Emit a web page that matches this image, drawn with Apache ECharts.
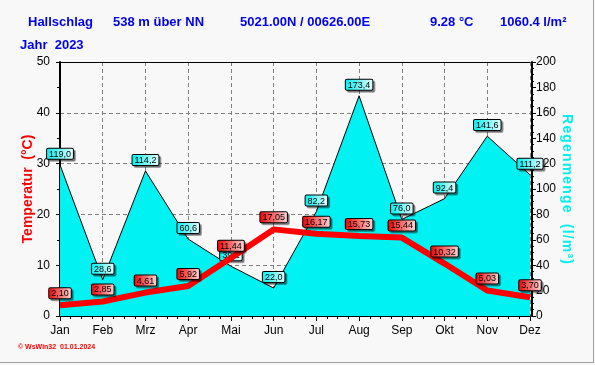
<!DOCTYPE html>
<html>
<head>
<meta charset="utf-8">
<script src="https://cdn.jsdelivr.net/npm/echarts@6/dist/echarts.min.js"></script>
<style>
html,body{margin:0;padding:0;background:#F8F8F8;}
#c{width:595px;height:365px;}
</style>
</head>
<body>
<div id="c"></div>
<script>
var months = ['Jan','Feb','Mrz','Apr','Mai','Jun','Jul','Aug','Sep','Okt','Nov','Dez'];
var temperature = [2.10, 2.85, 4.61, 5.92, 11.44, 17.05, 16.17, 15.73, 15.44, 10.32, 5.03, 3.70];
var rain = [119.0, 28.6, 114.2, 60.6, 39.2, 22.0, 82.2, 173.4, 76.0, 92.4, 141.6, 111.2];
var tempTicks = {min: 0, max: 50, interval: 10};
var rainTicks = {min: 0, max: 200, interval: 20};
var header = ['Hallschlag', '538 m über NN', '5021.00N / 00626.00E', '9.28 °C', '1060.4 l/m²'];
var yearLabel = 'Jahr  2023';
var footer = '© WsWin32  01.01.2024';
var leftTitle = 'Temperatur  (°C)';
var rightTitle = 'Regenmenge  (l/m³)';

var chart = echarts.init(document.getElementById('c'), null, {renderer: 'canvas'});
var FONT = 'Liberation Sans, Arial, sans-serif';
function grad(c1, c2) {
  return new echarts.graphic.LinearGradient(0, 0, 1, 0, [{offset: 0, color: c1}, {offset: 1, color: c2}]);
}
function comma(v, d) { return v.toFixed(d).replace('.', ','); }
function spaced(s) { return s.split('').join('\u200A'); }

var headerX = [28, 113, 240, 430, 500];
var graphics = header.map(function (t, i) {
  return {type: 'text', left: headerX[i], top: 16, style: {text: t, fill: '#0000F0', font: 'bold 13px ' + FONT}};
});
graphics.push({type: 'text', left: 20, top: 39, style: {text: yearLabel, fill: '#0000F0', font: 'bold 13px ' + FONT}});
graphics.push({type: 'text', left: 18, top: 344, style: {text: footer, fill: '#FF0000', font: 'bold 7px ' + FONT}});
graphics.push({type: 'line', shape: {x1: 593.5, y1: 0, x2: 593.5, y2: 363}, style: {stroke: '#A0A0A0', lineWidth: 1}});
graphics.push({type: 'line', shape: {x1: 0, y1: 362.5, x2: 594, y2: 362.5}, style: {stroke: '#A0A0A0', lineWidth: 1}});

var labelBase = {
  show: true, position: 'top', color: '#000', fontSize: 9, fontFamily: FONT,
  borderColor: '#000', borderWidth: 1, borderRadius: 1,
  padding: [1, 2, 0, 2], lineHeight: 9,
  shadowColor: 'rgba(0,0,0,0.35)', shadowOffsetX: 2, shadowOffsetY: 2, shadowBlur: 0
};

var option = {
  backgroundColor: '#F8F8F8',
  animation: false,
  graphic: graphics,
  grid: {left: 60, right: 65, top: 62, bottom: 49},
  xAxis: [{
    type: 'category', data: months, boundaryGap: false,
    axisLine: {lineStyle: {color: '#000', width: 2}},
    axisTick: {show: true, length: 5, lineStyle: {color: '#000'}},
    axisLabel: {color: '#000', fontSize: 12, fontFamily: FONT, margin: 9},
    splitLine: {show: true, lineStyle: {color: '#808080', type: [4, 3], width: 1}}
  }, {
    type: 'value', min: 0, max: 11, interval: 1, position: 'bottom',
    axisLine: {show: false}, axisLabel: {show: false}, splitLine: {show: false},
    axisTick: {show: false},
    minorTick: {show: true, splitNumber: 4, length: 3, lineStyle: {color: '#000'}}
  }, {
    type: 'category', data: months, boundaryGap: false, position: 'top',
    axisLine: {show: true, lineStyle: {color: '#000', width: 1}},
    axisTick: {show: false}, axisLabel: {show: false}, splitLine: {show: false}
  }],
  yAxis: [{
    type: 'value', min: tempTicks.min, max: tempTicks.max, interval: tempTicks.interval,
    position: 'left', offset: 4,
    name: leftTitle, nameLocation: 'middle', nameGap: 21, nameRotate: 90, nameMoveOverlap: false,
    nameTextStyle: {color: '#FF0000', fontWeight: 'bold', fontSize: 14, fontFamily: FONT},
    axisLine: {show: true, lineStyle: {color: '#000', width: 2}},
    axisTick: {show: true, length: 4, lineStyle: {color: '#000'}},
    minorTick: {show: true, splitNumber: 2, length: 3, lineStyle: {color: '#000'}},
    axisLabel: {color: '#000', fontSize: 12, fontFamily: FONT, margin: 6},
    splitLine: {show: true, lineStyle: {color: '#808080', type: [4, 3], width: 1}}
  }, {
    type: 'value', min: rainTicks.min, max: rainTicks.max, interval: rainTicks.interval,
    position: 'right', offset: 2,
    name: spaced(rightTitle), nameLocation: 'middle', nameGap: 28, nameRotate: -90, nameMoveOverlap: false,
    nameTextStyle: {color: '#00F0F0', fontWeight: 'bold', fontSize: 14, fontFamily: FONT},
    axisLine: {show: true, lineStyle: {color: '#000', width: 2}},
    axisTick: {show: true, length: 4, lineStyle: {color: '#000'}},
    minorTick: {show: true, splitNumber: 4, length: 2, lineStyle: {color: '#000'}},
    axisLabel: {color: '#000', fontSize: 12, fontFamily: FONT, margin: 4},
    splitLine: {show: false}
  }],
  series: [{
    name: 'Regen', type: 'line', xAxisIndex: 0, yAxisIndex: 1, data: rain, z: 2,
    symbol: 'circle', symbolSize: 0.1, showSymbol: true,
    lineStyle: {color: '#000', width: 1},
    itemStyle: {color: '#000'},
    areaStyle: {color: '#00F2F2', opacity: 1},
    label: Object.assign({}, labelBase, {
      distance: 6,
      formatter: function (p) { return comma(p.value, 1); },
      backgroundColor: grad('#00F0F0', '#E8FFFF')
    })
  }, {
    name: 'Temperatur', type: 'line', xAxisIndex: 0, yAxisIndex: 0, data: temperature, z: 5,
    symbol: 'circle', symbolSize: 0.1, showSymbol: true,
    lineStyle: {color: '#FF0000', width: 6},
    itemStyle: {color: '#FF0000'},
    label: Object.assign({}, labelBase, {
      distance: 7,
      formatter: function (p) { return comma(p.value, 2); },
      backgroundColor: grad('#F00000', '#FFD8D8')
    })
  }]
};
chart.setOption(option);
</script>
</body>
</html>
